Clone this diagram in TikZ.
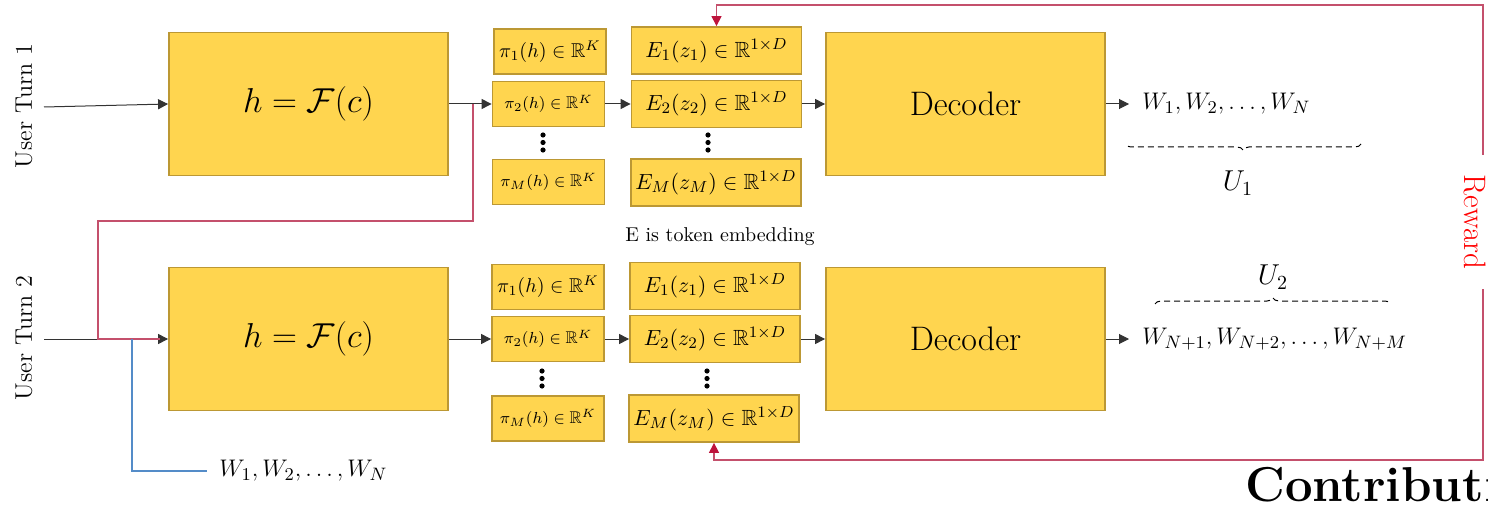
\documentclass[tikz,border=0pt]{standalone}
\usepackage{amssymb}
\usetikzlibrary{arrows.meta,decorations.pathreplacing}

\definecolor{boxfill}{RGB}{255,213,79}
\definecolor{boxedge}{RGB}{188,152,52}
\definecolor{rewardred}{RGB}{196,80,108}
\definecolor{tipred}{RGB}{190,20,60}
\definecolor{histblue}{RGB}{84,140,200}

\tikzset{
  block/.style={draw=boxedge, fill=boxfill, line width=0.9pt, minimum width=139.5pt, minimum height=71.5pt, inner sep=0pt},
  pibox/.style={draw=boxedge, fill=boxfill, line width=0.9pt, minimum width=56pt, minimum height=22.5pt, inner sep=0pt},
  embbox/.style={draw=boxedge, fill=boxfill, line width=0.9pt, minimum width=85pt, minimum height=23.5pt, inner sep=0pt, font=\fontsize{11}{13}\selectfont},
  flow/.style={draw=black!80, line width=0.5pt, -{Triangle[length=5pt,width=5pt]}},
  rewardline/.style={draw=rewardred, line width=0.6pt},
  rtip/.style={{Triangle[length=5pt,width=5pt,color=tipred]}-{Triangle[length=5pt,width=5pt,color=tipred]}},
  histline/.style={draw=histblue, line width=0.6pt},
  outtext/.style={anchor=west, inner xsep=6.5pt, font=\fontsize{13}{16}\selectfont},
  ubrace/.style={decorate, decoration={brace, amplitude=3pt}, dashed, dash pattern=on 3pt off 2pt, line width=0.5pt},
}

\newcommand{\bigfont}{\fontsize{17}{20}\selectfont}
\newcommand{\piA}{\fontsize{10}{12}\selectfont}
\newcommand{\piB}{\fontsize{8.5}{10}\selectfont}

\begin{document}
\begin{tikzpicture}[x=0.5pt, y=-0.5pt]
    \useasboundingbox (0,0) rectangle (1488,508);
    \clip (0,0) rectangle (1488,508);

    % First user turn
    \node[rotate=90, font=\fontsize{12}{14}\selectfont] (turn1) at (24,106) {User Turn 1};
    \coordinate (in1) at (44,107);
    \node[block, font=\bigfont] (f1) at (308.5,104) {$h=\mathcal{F}(c)$};
    \node[pibox, font=\piA] (pi11) at (550,51.5) {$\pi_1(h)\in\mathbb{R}^K$};
    \node[pibox, font=\piB] (pi12) at (548.5,104) {$\pi_2(h)\in\mathbb{R}^K$};
    \node[pibox, font=\piB] (pi1m) at (548.5,182) {$\pi_M(h)\in\mathbb{R}^K$};
    \node[embbox] (e11) at (716.5,50.5) {$E_1(z_1)\in\mathbb{R}^{1\times D}$};
    \node[embbox] (e12) at (716.5,104) {$E_2(z_2)\in\mathbb{R}^{1\times D}$};
    \node[embbox] (e1m) at (716,182.5) {$E_M(z_M)\in\mathbb{R}^{1\times D}$};
    \node[block, font=\fontsize{17}{20}\selectfont] (dec1) at (965.5,104) {Decoder};
    \node[outtext] (out1) at (1129,104) {$W_1, W_2, \dots, W_N$};

    \foreach \y in {135,142.5,150} {
        \fill (543,\y) circle[radius=1.3pt];
        \fill (708,\y) circle[radius=1.3pt];
    }

    \draw[flow] (in1) -- (f1.west);
    \draw[flow] (f1) -- (pi12);
    \draw[flow] (pi12) -- (e12);
    \draw[flow] (e12) -- (dec1);
    \draw[flow] (dec1) -- (out1);

    \draw[ubrace] (1361,144) -- (1125,144);
    \node[font=\fontsize{14}{17}\selectfont] (u1) at (1238,183) {$U_1$};

    \node[font=\fontsize{10}{12}\selectfont] (embnote) at (720,237) {E is token embedding};

    % Second user turn
    \node[rotate=90, font=\fontsize{12}{14}\selectfont] (turn2) at (24,338) {User Turn 2};
    \coordinate (in2) at (44,339);
    \node[block, font=\bigfont] (f2) at (308.5,339) {$h=\mathcal{F}(c)$};
    \node[pibox, font=\piA] (pi21) at (548,287) {$\pi_1(h)\in\mathbb{R}^K$};
    \node[pibox, font=\piB] (pi22) at (548,339) {$\pi_2(h)\in\mathbb{R}^K$};
    \node[pibox, font=\piB] (pi2m) at (548,418.5) {$\pi_M(h)\in\mathbb{R}^K$};
    \node[embbox] (e21) at (715,286) {$E_1(z_1)\in\mathbb{R}^{1\times D}$};
    \node[embbox] (e22) at (715,339) {$E_2(z_2)\in\mathbb{R}^{1\times D}$};
    \node[embbox] (e2m) at (714,418.5) {$E_M(z_M)\in\mathbb{R}^{1\times D}$};
    \node[block, font=\fontsize{17}{20}\selectfont] (dec2) at (965.5,339) {Decoder};
    \node[outtext] (out2) at (1129,339) {$W_{N+1}, W_{N+2}, \dots, W_{N+M}$};

    \foreach \y in {371,378.5,386} {
        \fill (542,\y) circle[radius=1.3pt];
        \fill (707,\y) circle[radius=1.3pt];
    }

    \draw[flow] (in2) -- (f2.west);
    \draw[flow] (f2) -- (pi22);
    \draw[flow] (pi22) -- (e22);
    \draw[flow] (e22) -- (dec2);
    \draw[flow] (dec2) -- (out2);

    \draw[ubrace] (1155,304) -- (1391,304);
    \node[font=\fontsize{14}{17}\selectfont] (u2) at (1273,277) {$U_2$};

    % history of the first turn fed back in
    \coordinate (skip) at (473,104);
    \coordinate (skipdown) at (473,221);
    \coordinate (skipleft) at (98,221);
    \draw[rewardline, shorten >=4pt] (skip) -- (skipdown) -- (skipleft) |- (f2.west);

    \coordinate (tap) at (132,339);
    \node[outtext, inner xsep=6pt] (hist) at (207,471) {$W_1, W_2, \dots, W_N$};
    \draw[histline] (tap) |- (hist.west);

    % reward loop
    \coordinate (rwtop) at (1483,5);
    \coordinate (rwbot) at (1483,460);
    \draw[rewardline, rtip] (e11.north) |- (rwtop)
        -- node[pos=0.477, xshift=-4pt, rotate=-90, fill=white, text=red, inner xsep=10pt, inner ysep=2pt,
                font=\fontsize{15.5}{18}\selectfont] (reward) {Reward} (rwbot)
        -| (e2m.south);

    \node[anchor=base west, inner sep=0pt, font=\bfseries\fontsize{24.5}{28}\selectfont] (contrib) at (1245,501) {Contributions};
\end{tikzpicture}
\end{document}
